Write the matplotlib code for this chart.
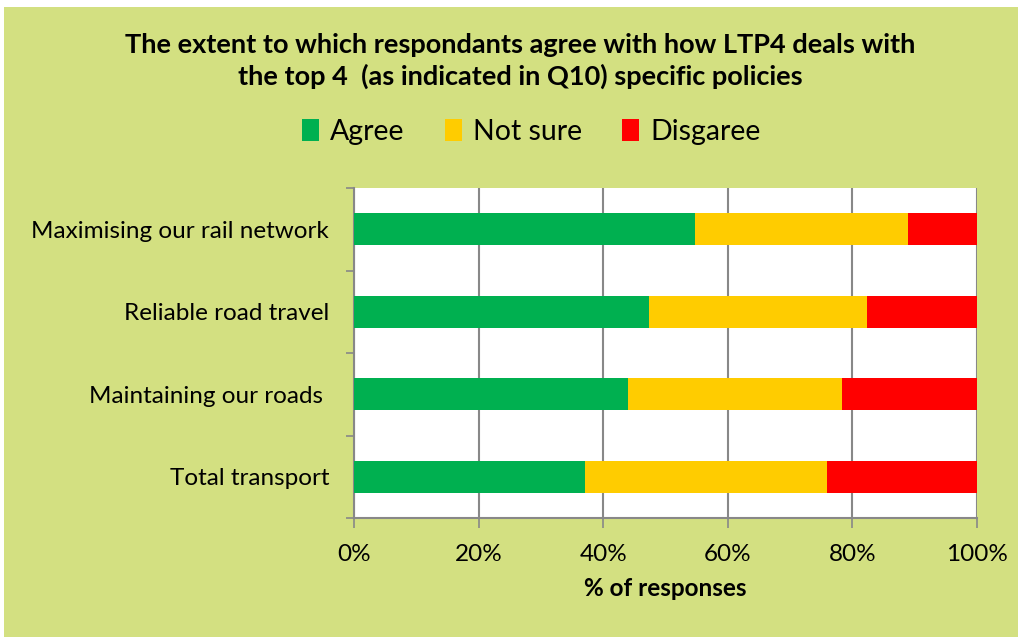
import matplotlib.pyplot as plt
from matplotlib.patches import Rectangle, Patch

# data (percent of responses)
policies = ["Maximising our rail network", "Reliable road travel",
            "Maintaining our roads ", "Total transport"]
agree = [54.7, 47.4, 44.0, 37.1]
not_sure = [34.3, 35.0, 34.4, 38.8]
disagree = [11.0, 17.6, 21.6, 24.1]
series_names = ["Agree", "Not sure", "Disgaree"]
colours = ["#00B050", "#FFCC00", "#FF0000"]
xticks = [0, 20, 40, 60, 80, 100]

plt.rcParams['font.family'] = ['Lato', 'DejaVu Sans']

fig = plt.figure(figsize=(10.22, 6.37), dpi=100)
fig.patch.set_facecolor("white")
fig.patches.append(Rectangle((4/1022, 0), 1 - 8/1022, 1 - 7/637,
                             transform=fig.transFigure, facecolor="#D3E081",
                             edgecolor="none", zorder=-10))

ax = fig.add_axes([354/1022, 1 - 518/637, 623/1022, 330/637])
ax.set_facecolor("white")

ypos = list(range(len(policies)))
left = [0] * len(policies)
for vals, col, nm in zip([agree, not_sure, disagree], colours, series_names):
    ax.barh(ypos, vals, left=left, height=0.39, color=col, label=nm, zorder=3)
    left = [l + v for l, v in zip(left, vals)]

ax.set_xlim(0, 100)
ax.set_ylim(3.5, -0.5)
ax.set_xticks(xticks)
ax.set_xticklabels([f"{t}%" for t in xticks], fontsize=17.5)
ax.set_yticks(ypos)
ax.set_yticklabels(policies, fontsize=17.5)
ax.set_yticks([i - 0.5 for i in range(len(policies) + 1)], minor=True)
ax.tick_params(axis='y', which='major', length=0, pad=18)
ax.tick_params(axis='y', which='minor', length=6, color="#888888", width=1.2)
ax.tick_params(axis='x', length=7, color="#888888", width=1.2, pad=12)
ax.xaxis.grid(True, color="#888888", linewidth=1.5, zorder=0)
for s in ["top", "right"]:
    ax.spines[s].set_visible(False)
for s in ["left", "bottom"]:
    ax.spines[s].set_color("#888888")
    ax.spines[s].set_linewidth(1.5)

ax.set_xlabel("% of responses", fontsize=17.5, fontweight="bold", labelpad=8)

fig.text(0.509, 1 - 61/637,
         "The extent to which respondants agree with how LTP4 deals with\n"
         "the top 4  (as indicated in Q10) specific policies",
         ha="center", va="center", fontsize=19.5, fontweight="bold",
         linespacing=1.3)

handles = [Patch(facecolor=c, edgecolor="none") for c in colours]
fig.legend(handles, series_names, loc="center", bbox_to_anchor=(0.52, 1 - 132/637),
           ncol=3, frameon=False, fontsize=20.5, handlelength=0.6, handleheight=0.8,
           handletextpad=0.4, columnspacing=1.4)

fig.savefig("out.png", dpi=100, facecolor=fig.get_facecolor())
